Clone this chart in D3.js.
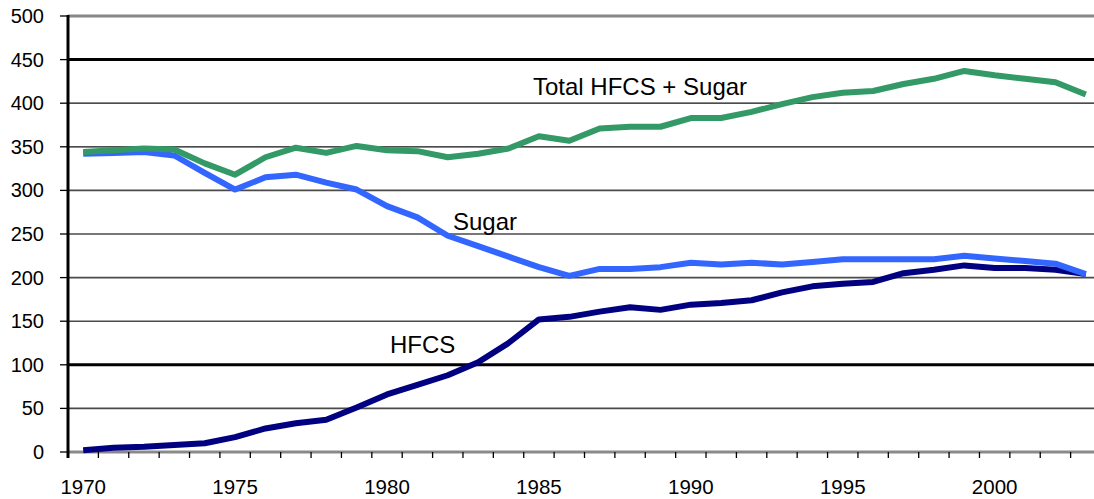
<!DOCTYPE html>
<html>
<head>
<meta charset="utf-8">
<script src="https://cdn.jsdelivr.net/npm/d3@7"></script>
<style>
  html, body { margin: 0; padding: 0; background: #fff; }
  svg { display: block; font-family: "Liberation Sans", Arial, sans-serif; }
</style>
</head>
<body>
<svg id="chart" width="1094" height="499"></svg>
<script>
const years = d3.range(1970, 2004);
const hfcs  = [2, 5, 6, 8, 10, 17, 27, 33, 37, 51, 66, 77, 88, 103, 125, 152, 155, 161, 166, 163, 169, 171, 174, 183, 190, 193, 195, 205, 209, 214, 211, 211, 209, 204];
const sugar = [342, 343, 344, 340, 320, 301, 315, 318, 309, 301, 282, 269, 248, 236, 224, 212, 202, 210, 210, 212, 217, 215, 217, 215, 218, 221, 221, 221, 221, 225, 222, 219, 216, 204];
const total = [344, 346, 348, 347, 331, 318, 338, 349, 343, 351, 346, 345, 338, 342, 348, 362, 357, 371, 373, 373, 383, 383, 390, 399, 407, 412, 414, 422, 428, 437, 432, 428, 424, 410];
const yTicks = [0, 50, 100, 150, 200, 250, 300, 350, 400, 450, 500];
const xLabels = [1970, 1975, 1980, 1985, 1990, 1995, 2000];
const seriesNames = ["HFCS", "Sugar", "Total HFCS + Sugar"];

const svg = d3.select("#chart");
const plotLeft = 68, plotRight = 1101, plotTop = 16, plotBottom = 452;

const x = d3.scaleBand().domain(years).range([plotLeft, plotRight]).paddingInner(0).paddingOuter(0);
const y = d3.scaleLinear().domain([0, 500]).range([plotBottom, plotTop]);

// gridlines
const gridStyle = v => {
  if (v === 500) return {c: "#888", w: 3};
  if (v === 450 || v === 100) return {c: "#000", w: 3};
  if (v === 0) return {c: "#8a8a8a", w: 3};
  if (v === 400 || v === 350) return {c: "#111", w: 1.3};
  return {c: "#4a4a4a", w: 1.6};
};
svg.append("g").selectAll("line").data(yTicks).join("line")
  .attr("x1", plotLeft).attr("x2", 1094)
  .attr("y1", d => y(d)).attr("y2", d => y(d))
  .attr("stroke", d => gridStyle(d).c)
  .attr("stroke-width", d => gridStyle(d).w);

// y tick marks + labels
svg.append("g").selectAll("line").data(yTicks).join("line")
  .attr("x1", 60).attr("x2", plotLeft)
  .attr("y1", d => y(d)).attr("y2", d => y(d))
  .attr("stroke", "#000").attr("stroke-width", 1.3);
svg.append("g").selectAll("text").data(yTicks).join("text")
  .attr("x", 44).attr("y", d => y(d))
  .attr("text-anchor", "end").attr("dominant-baseline", "central")
  .attr("font-size", 20).attr("fill", "#000")
  .text(d => d);

// x tick marks at band boundaries
const bounds = years.map(d => x(d)).concat([x(years[years.length - 1]) + x.bandwidth()]);
svg.append("g").selectAll("line").data(bounds.slice(1)).join("line")
  .attr("x1", d => d).attr("x2", d => d)
  .attr("y1", plotBottom).attr("y2", plotBottom + 6)
  .attr("stroke", "#000").attr("stroke-width", 1.3);

// x labels
svg.append("g").selectAll("text").data(xLabels).join("text")
  .attr("x", d => x(d) + x.bandwidth() / 2).attr("y", 494)
  .attr("text-anchor", "middle")
  .attr("font-size", 20.5).attr("fill", "#000")
  .text(d => d);

// y axis line
svg.append("line")
  .attr("x1", plotLeft).attr("x2", plotLeft).attr("y1", plotTop - 1).attr("y2", plotBottom + 6)
  .attr("stroke", "#000").attr("stroke-width", 3);

// series lines
const line = vals => d3.line()
  .x((d, i) => x(years[i]) + x.bandwidth() / 2)
  .y(d => y(d))(vals);

const series = [
  {vals: hfcs, color: "#000080"},
  {vals: sugar, color: "#3366FF"},
  {vals: total, color: "#339966"}
];
svg.append("g").selectAll("path").data(series).join("path")
  .attr("d", d => line(d.vals))
  .attr("fill", "none")
  .attr("stroke", d => d.color)
  .attr("stroke-width", 6)
  .attr("stroke-linejoin", "round")
  .attr("stroke-linecap", "butt");

// annotations
const ann = [
  {t: seriesNames[2], x: 533, y: 95},
  {t: seriesNames[1], x: 453, y: 230},
  {t: seriesNames[0], x: 390, y: 353}
];
svg.append("g").selectAll("text").data(ann).join("text")
  .attr("x", d => d.x).attr("y", d => d.y)
  .attr("font-size", 24).attr("fill", "#000")
  .text(d => d.t);
</script>
</body>
</html>
